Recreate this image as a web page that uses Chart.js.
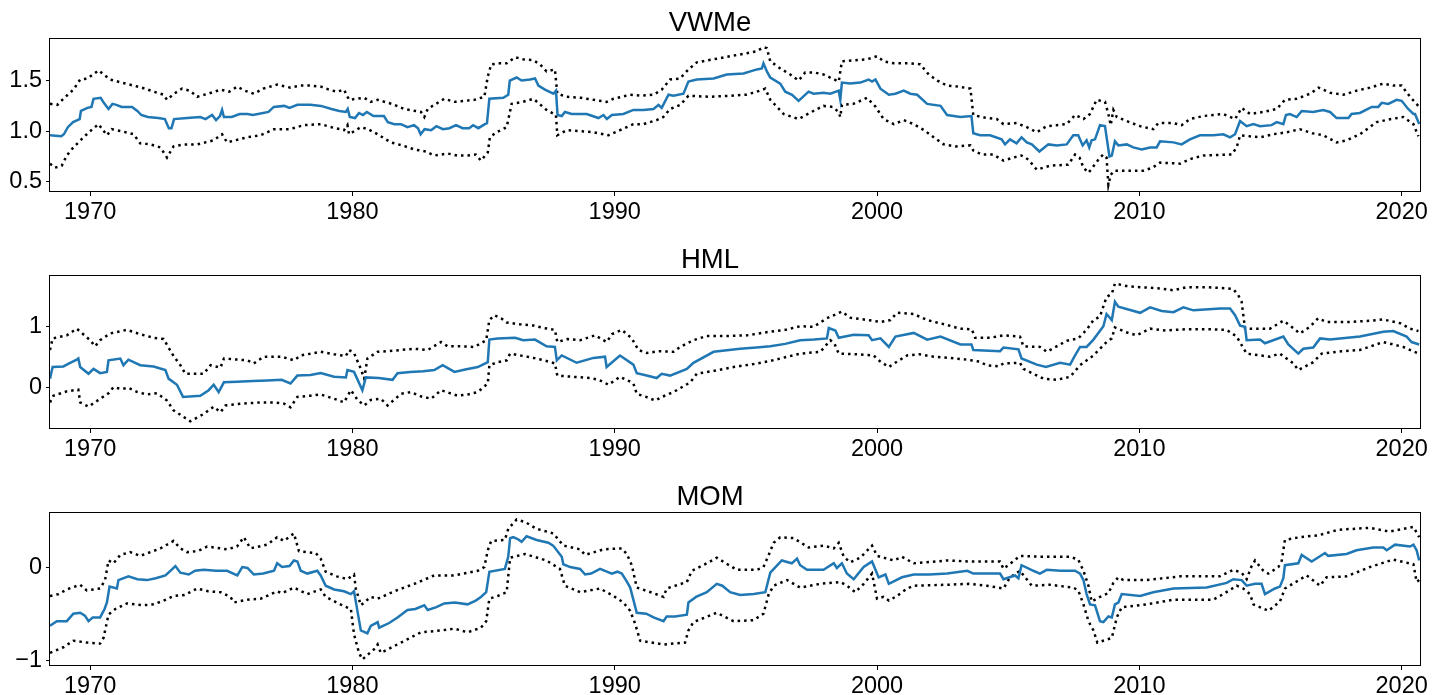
<!DOCTYPE html>
<html>
<head>
<meta charset="utf-8">
<title>VWMe / HML / MOM</title>
<script src="https://cdn.jsdelivr.net/npm/chart.js@4.4.1/dist/chart.umd.min.js"></script>
<style>
    html, body { margin: 0; padding: 0; background: #fff; overflow: hidden; }
    body { width: 1444px; height: 695px; position: relative; }
    canvas { position: absolute; left: 0; }
</style>
</head>
<body>
<canvas id="vwmeChart" width="1444" height="237" style="top:0px"></canvas>
<canvas id="hmlChart" width="1444" height="237" style="top:237px"></canvas>
<canvas id="momChart" width="1444" height="237" style="top:474px"></canvas>

<script>
// x axis (years)
const X_MIN = 1968.47;
const X_MAX = 2020.70;
const YEAR_TICKS = [1970, 1980, 1990, 2000, 2010, 2020];

// VWMe: estimate, lower and upper band  [year, value]
const vwmeEst = [[1968.47,0.96],[1968.9,0.95],[1969.0,0.97],[1969.15,1.04],[1969.35,1.09],[1969.6,1.12],[1969.65,1.20],[1969.9,1.23],[1970.05,1.24],[1970.13,1.32],[1970.4,1.33],[1970.55,1.27],[1970.7,1.22],[1970.85,1.27],[1971.0,1.26],[1971.2,1.24],[1971.6,1.24],[1971.8,1.20],[1971.95,1.16],[1972.2,1.14],[1972.6,1.13],[1972.85,1.12],[1973.0,1.03],[1973.1,1.03],[1973.2,1.12],[1973.7,1.13],[1974.2,1.14],[1974.4,1.12],[1974.65,1.16],[1974.8,1.11],[1974.95,1.15],[1975.03,1.21],[1975.1,1.14],[1975.4,1.14],[1975.7,1.17],[1976.0,1.17],[1976.2,1.16],[1976.4,1.17],[1976.8,1.19],[1977.0,1.24],[1977.4,1.25],[1977.6,1.23],[1977.9,1.26],[1978.4,1.26],[1978.8,1.25],[1979.2,1.22],[1979.5,1.20],[1979.75,1.19],[1979.82,1.22],[1979.9,1.14],[1980.1,1.13],[1980.25,1.18],[1980.4,1.16],[1980.55,1.19],[1980.8,1.15],[1981.2,1.15],[1981.35,1.09],[1981.6,1.07],[1981.85,1.07],[1982.1,1.04],[1982.35,1.06],[1982.5,1.03],[1982.6,0.97],[1982.75,1.02],[1983.0,1.01],[1983.2,1.05],[1983.45,1.02],[1983.7,1.03],[1983.95,1.06],[1984.2,1.03],[1984.45,1.03],[1984.6,1.06],[1984.8,1.03],[1985.05,1.07],[1985.13,1.08],[1985.22,1.32],[1985.75,1.33],[1985.94,1.36],[1986.0,1.50],[1986.26,1.53],[1986.45,1.50],[1986.77,1.51],[1986.96,1.52],[1987.09,1.45],[1987.34,1.41],[1987.66,1.37],[1987.76,1.40],[1987.82,1.16],[1987.98,1.15],[1988.1,1.19],[1988.36,1.17],[1988.93,1.17],[1989.38,1.13],[1989.57,1.16],[1989.7,1.12],[1989.89,1.16],[1990.33,1.17],[1990.71,1.21],[1991.09,1.21],[1991.48,1.22],[1991.67,1.26],[1991.79,1.23],[1992.05,1.36],[1992.24,1.35],[1992.62,1.37],[1992.81,1.49],[1993.13,1.51],[1993.77,1.52],[1994.27,1.56],[1994.91,1.57],[1995.42,1.61],[1995.61,1.62],[1995.67,1.67],[1995.8,1.59],[1995.93,1.53],[1996.31,1.47],[1996.5,1.39],[1996.76,1.36],[1997.01,1.30],[1997.39,1.39],[1997.58,1.37],[1997.96,1.38],[1998.22,1.37],[1998.54,1.40],[1998.6,1.31],[1998.66,1.48],[1998.98,1.47],[1999.36,1.48],[1999.68,1.51],[1999.81,1.49],[1999.94,1.51],[2000.13,1.42],[2000.45,1.36],[2000.7,1.37],[2001.02,1.40],[2001.27,1.37],[2001.53,1.36],[2001.91,1.27],[2002.42,1.25],[2002.67,1.16],[2003.18,1.14],[2003.6,1.15],[2003.67,0.98],[2003.93,0.96],[2004.31,0.96],[2004.75,0.92],[2004.88,0.87],[2005.07,0.92],[2005.32,0.88],[2005.51,0.94],[2005.71,0.89],[2005.9,0.87],[2006.19,0.80],[2006.53,0.87],[2006.85,0.86],[2007.23,0.87],[2007.48,0.96],[2007.67,0.96],[2007.84,0.86],[2007.99,0.91],[2008.09,0.84],[2008.18,0.91],[2008.31,0.92],[2008.5,1.06],[2008.69,1.05],[2008.86,0.75],[2008.95,0.76],[2009.07,0.90],[2009.2,0.86],[2009.52,0.87],[2009.77,0.84],[2010.09,0.82],[2010.41,0.84],[2010.66,0.84],[2010.79,0.90],[2011.3,0.89],[2011.61,0.87],[2011.93,0.92],[2012.31,0.96],[2012.82,0.96],[2013.2,0.97],[2013.46,0.94],[2013.65,0.97],[2013.84,1.10],[2014.09,1.05],[2014.35,1.07],[2014.6,1.05],[2015.04,1.06],[2015.24,1.09],[2015.49,1.07],[2015.59,1.16],[2015.74,1.17],[2016.0,1.14],[2016.19,1.20],[2016.63,1.19],[2017.01,1.21],[2017.27,1.19],[2017.52,1.13],[2017.97,1.13],[2018.09,1.17],[2018.41,1.18],[2018.86,1.24],[2019.11,1.24],[2019.24,1.28],[2019.49,1.27],[2019.81,1.31],[2020.0,1.30],[2020.25,1.22],[2020.45,1.17],[2020.51,1.17],[2020.67,1.07]];
const vwmeHi = [[1968.47,1.27],[1968.75,1.26],[1968.98,1.32],[1969.36,1.41],[1969.62,1.51],[1969.9,1.52],[1970.32,1.60],[1970.76,1.51],[1971.2,1.48],[1971.66,1.45],[1972.1,1.42],[1972.55,1.38],[1972.8,1.36],[1972.93,1.31],[1973.2,1.37],[1973.5,1.42],[1973.8,1.40],[1974.08,1.34],[1974.5,1.37],[1974.97,1.41],[1975.3,1.39],[1975.61,1.44],[1975.9,1.40],[1976.24,1.37],[1976.6,1.42],[1977.13,1.46],[1977.64,1.43],[1978.0,1.45],[1978.41,1.45],[1978.8,1.44],[1979.11,1.41],[1979.4,1.39],[1979.68,1.41],[1979.87,1.31],[1980.45,1.33],[1980.7,1.29],[1980.96,1.31],[1981.5,1.27],[1981.97,1.22],[1982.61,1.19],[1982.74,1.14],[1982.87,1.22],[1983.5,1.32],[1983.89,1.29],[1984.3,1.30],[1984.65,1.31],[1985.03,1.34],[1985.16,1.54],[1985.29,1.66],[1985.62,1.67],[1985.88,1.67],[1986.2,1.73],[1986.5,1.71],[1986.9,1.70],[1987.15,1.66],[1987.4,1.59],[1987.72,1.61],[1987.81,1.37],[1988.17,1.34],[1988.7,1.33],[1989.19,1.31],[1989.69,1.29],[1989.95,1.32],[1990.59,1.36],[1991.0,1.35],[1991.48,1.36],[1991.79,1.41],[1992.11,1.51],[1992.49,1.52],[1992.81,1.61],[1993.13,1.68],[1993.77,1.71],[1994.4,1.74],[1995.04,1.77],[1995.42,1.79],[1995.67,1.83],[1995.8,1.82],[1995.93,1.69],[1996.31,1.62],[1996.69,1.56],[1997.01,1.50],[1997.26,1.58],[1997.6,1.58],[1997.96,1.56],[1998.54,1.49],[1998.66,1.69],[1999.1,1.70],[1999.62,1.71],[2000.0,1.74],[2000.25,1.69],[2000.64,1.67],[2001.27,1.67],[2001.65,1.66],[2001.97,1.56],[2002.3,1.50],[2002.67,1.45],[2003.1,1.44],[2003.56,1.42],[2003.67,1.16],[2004.18,1.13],[2004.56,1.12],[2004.82,1.07],[2005.32,1.08],[2005.71,1.04],[2006.09,0.99],[2006.47,1.05],[2007.23,1.07],[2007.55,1.16],[2007.87,1.12],[2008.12,1.17],[2008.37,1.31],[2008.69,1.29],[2008.82,1.17],[2008.91,1.06],[2009.01,1.21],[2009.14,1.14],[2009.52,1.10],[2010.03,1.05],[2010.53,1.02],[2010.72,1.08],[2011.3,1.08],[2011.61,1.06],[2011.93,1.12],[2012.44,1.15],[2013.2,1.17],[2013.65,1.12],[2013.9,1.23],[2014.22,1.17],[2014.73,1.19],[2015.24,1.22],[2015.55,1.31],[2016.0,1.32],[2016.51,1.37],[2016.83,1.43],[2017.27,1.38],[2017.78,1.36],[2018.28,1.40],[2018.79,1.43],[2019.3,1.47],[2019.68,1.45],[2020.0,1.45],[2020.32,1.34],[2020.67,1.24]];
const vwmeLo = [[1968.47,0.68],[1968.66,0.64],[1968.92,0.66],[1969.11,0.76],[1969.36,0.84],[1969.75,0.94],[1970.0,1.00],[1970.32,1.07],[1970.64,0.96],[1970.83,1.02],[1971.2,1.00],[1971.66,0.97],[1971.91,0.88],[1972.3,0.87],[1972.68,0.84],[1972.93,0.74],[1973.18,0.85],[1973.6,0.87],[1974.08,0.87],[1974.71,0.91],[1975.03,0.97],[1975.22,0.89],[1975.99,0.94],[1976.5,0.96],[1977.01,1.02],[1977.6,1.02],[1978.15,1.06],[1978.79,1.07],[1979.2,1.04],[1979.68,1.01],[1979.81,1.06],[1979.87,0.97],[1980.32,1.04],[1980.6,1.02],[1980.96,0.97],[1981.46,0.89],[1981.9,0.86],[1982.36,0.82],[1982.8,0.80],[1983.12,0.76],[1983.63,0.78],[1984.0,0.76],[1984.39,0.76],[1984.7,0.77],[1984.9,0.71],[1985.16,0.79],[1985.24,0.94],[1985.5,0.99],[1985.88,1.04],[1986.07,1.27],[1986.5,1.29],[1986.9,1.32],[1987.4,1.21],[1987.76,1.16],[1987.81,0.96],[1988.17,1.01],[1988.7,1.00],[1989.19,0.99],[1989.76,0.96],[1990.2,1.01],[1990.71,1.07],[1991.1,1.07],[1991.6,1.11],[1991.85,1.14],[1992.11,1.22],[1992.5,1.26],[1992.81,1.35],[1993.6,1.34],[1994.4,1.35],[1995.0,1.36],[1995.42,1.39],[1995.74,1.42],[1995.93,1.31],[1996.44,1.17],[1997.01,1.12],[1997.5,1.19],[1997.96,1.25],[1998.3,1.24],[1998.54,1.19],[1998.6,1.14],[1998.66,1.26],[1999.1,1.27],[1999.62,1.33],[1999.95,1.24],[2000.25,1.12],[2000.64,1.07],[2001.02,1.11],[2001.4,1.07],[2001.8,1.01],[2002.16,0.94],[2002.54,0.87],[2003.0,0.85],[2003.56,0.86],[2003.67,0.81],[2004.0,0.77],[2004.43,0.77],[2004.82,0.71],[2005.2,0.74],[2005.51,0.76],[2005.77,0.72],[2006.09,0.62],[2006.59,0.66],[2007.29,0.67],[2007.55,0.77],[2007.72,0.74],[2007.87,0.64],[2008.06,0.59],[2008.3,0.67],[2008.5,0.74],[2008.63,0.77],[2008.75,0.74],[2008.82,0.47],[2008.91,0.57],[2009.03,0.61],[2009.5,0.61],[2010.15,0.61],[2010.5,0.64],[2010.79,0.69],[2011.55,0.68],[2012.0,0.73],[2012.44,0.76],[2013.52,0.77],[2013.71,0.84],[2013.84,0.96],[2014.6,0.94],[2015.1,0.97],[2015.62,0.99],[2016.12,1.02],[2016.6,0.98],[2017.01,0.96],[2017.52,0.89],[2017.9,0.91],[2018.41,0.97],[2019.05,1.09],[2019.6,1.12],[2020.06,1.14],[2020.45,1.07],[2020.64,0.95]];

// HML
const hmlEst = [[1968.47,0.15],[1968.57,0.34],[1968.98,0.35],[1969.2,0.40],[1969.49,0.46],[1969.55,0.48],[1969.62,0.34],[1969.94,0.23],[1970.13,0.31],[1970.38,0.24],[1970.64,0.26],[1970.7,0.45],[1971.15,0.48],[1971.27,0.37],[1971.46,0.46],[1971.91,0.37],[1972.42,0.35],[1972.87,0.29],[1972.99,0.15],[1973.31,0.05],[1973.54,-0.15],[1974.2,-0.13],[1974.52,-0.04],[1974.71,0.05],[1974.9,-0.07],[1975.1,0.09],[1975.6,0.10],[1976.2,0.11],[1976.75,0.12],[1977.3,0.13],[1977.64,0.07],[1977.9,0.20],[1978.4,0.21],[1978.79,0.24],[1979.3,0.18],[1979.75,0.17],[1979.81,0.29],[1980.06,0.26],[1980.38,-0.04],[1980.51,0.17],[1981.0,0.16],[1981.53,0.13],[1981.72,0.24],[1982.2,0.26],[1982.7,0.27],[1983.12,0.29],[1983.44,0.37],[1983.89,0.26],[1984.3,0.30],[1984.78,0.34],[1985.16,0.42],[1985.22,0.79],[1985.54,0.81],[1986.2,0.82],[1986.51,0.78],[1986.96,0.79],[1987.4,0.68],[1987.72,0.67],[1987.79,0.45],[1987.98,0.53],[1988.55,0.41],[1989.19,0.49],[1989.63,0.51],[1989.69,0.34],[1990.2,0.53],[1990.71,0.38],[1990.84,0.24],[1991.22,0.20],[1991.6,0.16],[1991.79,0.23],[1992.11,0.20],[1992.75,0.31],[1993.0,0.41],[1993.77,0.59],[1994.78,0.64],[1995.4,0.66],[1995.93,0.68],[1996.5,0.72],[1997.07,0.78],[1997.6,0.79],[1998.09,0.81],[1998.16,0.98],[1998.41,0.94],[1998.54,0.82],[1999.11,0.87],[1999.68,0.86],[1999.81,0.78],[2000.13,0.81],[2000.45,0.67],[2000.7,0.84],[2001.4,0.90],[2001.91,0.79],[2002.42,0.84],[2003.18,0.71],[2003.6,0.71],[2003.67,0.62],[2004.69,0.60],[2004.82,0.66],[2005.39,0.63],[2005.51,0.48],[2006.09,0.38],[2006.44,0.34],[2006.98,0.41],[2007.36,0.38],[2007.55,0.53],[2007.74,0.67],[2007.99,0.67],[2008.25,0.79],[2008.63,1.01],[2008.75,1.21],[2008.95,1.11],[2009.07,1.41],[2009.2,1.33],[2010.03,1.23],[2010.41,1.32],[2010.85,1.26],[2011.3,1.24],[2011.68,1.32],[2012.06,1.27],[2013.08,1.30],[2013.46,1.30],[2013.65,1.19],[2013.84,1.02],[2014.03,1.00],[2014.09,0.78],[2014.6,0.79],[2014.79,0.73],[2015.49,0.84],[2015.68,0.71],[2016.06,0.56],[2016.25,0.64],[2016.63,0.66],[2016.89,0.81],[2017.27,0.79],[2018.41,0.84],[2019.3,0.92],[2019.68,0.93],[2020.19,0.84],[2020.38,0.75],[2020.67,0.71]];
const hmlHi = [[1968.47,0.62],[1968.57,0.81],[1969.11,0.86],[1969.49,0.97],[1970.0,0.78],[1970.19,0.68],[1970.38,0.78],[1970.76,0.89],[1971.4,0.95],[1971.9,0.88],[1972.42,0.82],[1972.8,0.80],[1973.18,0.52],[1973.44,0.37],[1973.63,0.23],[1974.33,0.23],[1974.59,0.37],[1974.97,0.33],[1975.1,0.48],[1975.99,0.45],[1976.24,0.40],[1976.62,0.51],[1977.3,0.51],[1977.77,0.45],[1978.03,0.53],[1978.79,0.59],[1979.3,0.55],[1979.75,0.52],[1979.87,0.62],[1980.06,0.57],[1980.32,0.31],[1980.45,0.15],[1980.57,0.48],[1980.96,0.59],[1981.6,0.61],[1982.36,0.64],[1982.87,0.62],[1983.38,0.75],[1983.63,0.68],[1984.1,0.68],[1984.65,0.67],[1985.1,0.78],[1985.22,1.11],[1985.41,1.19],[1985.67,1.14],[1985.88,1.07],[1986.4,1.04],[1986.9,1.02],[1987.3,0.98],[1987.72,0.95],[1987.81,0.75],[1988.2,0.80],[1988.68,0.78],[1989.25,0.86],[1989.69,0.75],[1989.9,0.88],[1990.27,0.95],[1990.65,0.81],[1990.9,0.62],[1991.22,0.57],[1991.7,0.60],[1992.24,0.59],[1992.49,0.67],[1993.0,0.78],[1993.51,0.85],[1994.3,0.85],[1995.04,0.86],[1995.93,0.92],[1996.5,0.95],[1997.07,1.01],[1997.58,1.00],[1998.09,1.14],[1998.66,1.25],[1998.98,1.15],[1999.5,1.12],[2000.13,1.08],[2000.51,1.11],[2000.76,1.23],[2001.4,1.21],[2001.91,1.11],[2002.67,1.03],[2003.16,0.97],[2003.61,0.96],[2003.74,0.82],[2004.3,0.82],[2004.82,0.86],[2005.45,0.84],[2005.58,0.68],[2006.21,0.67],[2006.47,0.59],[2006.85,0.68],[2007.23,0.77],[2007.67,0.81],[2007.99,0.95],[2008.25,1.11],[2008.5,1.17],[2008.75,1.49],[2008.95,1.54],[2009.07,1.71],[2009.5,1.67],[2010.03,1.65],[2010.79,1.63],[2011.3,1.60],[2011.8,1.65],[2012.6,1.65],[2013.33,1.63],[2013.58,1.62],[2013.77,1.52],[2013.9,1.41],[2014.03,0.97],[2014.98,0.97],[2015.49,1.10],[2015.8,1.00],[2016.12,0.89],[2016.5,1.00],[2016.82,1.14],[2017.14,1.08],[2018.0,1.08],[2018.79,1.10],[2019.3,1.12],[2019.94,1.06],[2020.32,0.97],[2020.64,0.93]];
const hmlLo = [[1968.47,-0.24],[1968.6,-0.13],[1969.1,-0.06],[1969.55,-0.03],[1969.62,-0.24],[1969.94,-0.31],[1970.38,-0.18],[1970.7,-0.09],[1970.89,0.01],[1971.2,-0.02],[1971.46,0.00],[1971.8,-0.07],[1972.17,-0.11],[1972.55,-0.09],[1972.93,-0.21],[1973.18,-0.37],[1973.57,-0.48],[1973.82,-0.55],[1974.33,-0.43],[1974.71,-0.31],[1974.97,-0.40],[1975.16,-0.29],[1975.8,-0.26],[1976.5,-0.24],[1977.0,-0.24],[1977.39,-0.26],[1977.64,-0.32],[1977.9,-0.15],[1978.4,-0.13],[1978.79,-0.11],[1979.3,-0.18],[1979.68,-0.24],[1979.94,-0.04],[1980.2,-0.20],[1980.45,-0.29],[1980.7,-0.20],[1981.08,-0.18],[1981.34,-0.29],[1981.85,-0.10],[1982.23,-0.07],[1982.6,-0.14],[1983.0,-0.18],[1983.38,-0.04],[1984.01,-0.13],[1984.4,-0.11],[1984.78,-0.07],[1985.16,0.07],[1985.22,0.37],[1985.54,0.42],[1985.88,0.45],[1986.01,0.56],[1986.4,0.53],[1986.9,0.49],[1987.3,0.45],[1987.72,0.40],[1987.81,0.20],[1988.4,0.18],[1989.06,0.16],[1989.4,0.13],[1989.76,0.05],[1990.2,0.18],[1990.5,0.12],[1990.71,0.07],[1990.84,-0.10],[1991.2,-0.15],[1991.54,-0.21],[1991.8,-0.15],[1992.24,-0.07],[1992.88,0.09],[1993.13,0.23],[1993.8,0.28],[1994.53,0.34],[1995.3,0.39],[1995.93,0.44],[1996.5,0.50],[1997.07,0.56],[1997.84,0.59],[1998.22,0.78],[1998.38,0.72],[1998.54,0.56],[1999.2,0.55],[1999.87,0.53],[2000.1,0.44],[2000.45,0.34],[2000.8,0.44],[2001.15,0.53],[2001.6,0.55],[2002.16,0.51],[2002.8,0.49],[2003.44,0.46],[2003.9,0.43],[2004.18,0.37],[2004.63,0.35],[2004.82,0.40],[2005.45,0.41],[2005.58,0.31],[2006.34,0.15],[2006.85,0.13],[2007.36,0.18],[2007.74,0.37],[2008.25,0.53],[2008.75,0.75],[2008.95,0.81],[2009.07,0.99],[2009.5,0.91],[2009.9,0.86],[2010.41,0.97],[2011.0,0.94],[2011.8,0.96],[2012.6,0.96],[2013.33,0.95],[2013.71,0.84],[2014.09,0.56],[2014.98,0.51],[2015.36,0.56],[2015.87,0.40],[2016.06,0.29],[2016.63,0.42],[2016.95,0.56],[2017.7,0.60],[2018.41,0.62],[2019.3,0.75],[2020.06,0.67],[2020.64,0.56]];

// MOM
const momEst = [[1968.47,-0.63],[1968.73,-0.58],[1969.11,-0.58],[1969.36,-0.50],[1969.62,-0.49],[1969.8,-0.52],[1969.94,-0.58],[1970.1,-0.54],[1970.38,-0.54],[1970.55,-0.45],[1970.64,-0.38],[1970.74,-0.21],[1971.02,-0.23],[1971.08,-0.14],[1971.46,-0.10],[1971.8,-0.13],[1972.17,-0.14],[1972.5,-0.12],[1972.87,-0.09],[1973.1,-0.03],[1973.25,0.01],[1973.44,-0.06],[1973.76,-0.08],[1974.0,-0.04],[1974.33,-0.03],[1974.8,-0.04],[1975.22,-0.04],[1975.61,-0.09],[1975.8,0.00],[1976.0,-0.01],[1976.24,-0.08],[1976.6,-0.07],[1977.01,-0.04],[1977.13,0.04],[1977.32,0.00],[1977.6,0.01],[1977.77,0.07],[1977.9,0.06],[1978.03,-0.04],[1978.28,-0.07],[1978.66,-0.04],[1978.79,-0.09],[1978.98,-0.20],[1979.3,-0.24],[1979.68,-0.26],[1979.94,-0.29],[1980.06,-0.26],[1980.19,-0.47],[1980.32,-0.68],[1980.57,-0.71],[1980.7,-0.63],[1980.96,-0.59],[1981.02,-0.65],[1981.4,-0.60],[1981.72,-0.54],[1982.1,-0.46],[1982.4,-0.45],[1982.74,-0.41],[1982.87,-0.46],[1983.2,-0.43],[1983.5,-0.39],[1983.9,-0.38],[1984.39,-0.40],[1984.7,-0.36],[1984.9,-0.32],[1985.1,-0.27],[1985.22,-0.05],[1985.81,-0.02],[1985.94,0.11],[1986.01,0.31],[1986.13,0.32],[1986.3,0.30],[1986.45,0.27],[1986.64,0.33],[1987.02,0.29],[1987.47,0.26],[1987.65,0.23],[1987.79,0.18],[1987.98,0.11],[1988.04,0.03],[1988.3,0.00],[1988.68,-0.02],[1988.87,-0.08],[1989.1,-0.07],[1989.44,-0.02],[1989.89,-0.07],[1990.1,-0.05],[1990.27,-0.07],[1990.45,-0.15],[1990.59,-0.22],[1990.84,-0.49],[1991.2,-0.50],[1991.48,-0.54],[1991.86,-0.58],[1991.98,-0.53],[1992.3,-0.53],[1992.75,-0.51],[1992.81,-0.38],[1993.1,-0.32],[1993.51,-0.27],[1993.89,-0.18],[1994.1,-0.20],[1994.4,-0.27],[1994.78,-0.30],[1995.3,-0.29],[1995.74,-0.27],[1995.93,-0.06],[1996.37,0.07],[1996.75,0.04],[1996.95,0.09],[1997.07,0.02],[1997.33,-0.03],[1997.96,-0.03],[1998.35,0.04],[1998.47,-0.01],[1998.66,0.04],[1998.85,-0.07],[1999.11,-0.13],[1999.49,0.00],[1999.81,0.06],[2000.06,-0.11],[2000.32,-0.08],[2000.45,-0.18],[2000.95,-0.11],[2001.4,-0.08],[2002.0,-0.08],[2002.67,-0.07],[2003.44,-0.04],[2003.67,-0.07],[2004.69,-0.07],[2004.82,-0.13],[2005.26,-0.09],[2005.39,-0.12],[2005.51,0.02],[2005.96,-0.04],[2006.21,-0.07],[2006.47,-0.03],[2007.0,-0.04],[2007.55,-0.04],[2007.74,-0.07],[2007.87,-0.14],[2007.99,-0.29],[2008.12,-0.40],[2008.31,-0.41],[2008.5,-0.58],[2008.63,-0.59],[2008.82,-0.53],[2008.95,-0.54],[2009.07,-0.40],[2009.2,-0.38],[2009.33,-0.29],[2010.03,-0.31],[2010.53,-0.27],[2011.3,-0.23],[2012.57,-0.22],[2013.33,-0.17],[2013.58,-0.13],[2013.9,-0.14],[2014.09,-0.20],[2014.41,-0.18],[2014.66,-0.18],[2014.79,-0.29],[2015.17,-0.23],[2015.36,-0.21],[2015.49,-0.12],[2015.55,0.02],[2016.06,0.04],[2016.19,0.13],[2016.57,0.06],[2017.08,0.15],[2017.2,0.12],[2017.9,0.14],[2018.28,0.18],[2018.92,0.21],[2019.3,0.21],[2019.43,0.18],[2019.75,0.24],[2020.32,0.22],[2020.45,0.24],[2020.57,0.18],[2020.67,0.07]];
const momHi = [[1968.47,-0.31],[1968.8,-0.29],[1969.11,-0.24],[1969.62,-0.19],[1969.87,-0.25],[1970.38,-0.23],[1970.57,-0.14],[1970.7,0.07],[1970.89,0.04],[1971.15,0.13],[1971.53,0.16],[1971.91,0.12],[1972.3,0.16],[1972.68,0.20],[1973.18,0.28],[1973.44,0.20],[1973.69,0.16],[1974.1,0.17],[1974.46,0.22],[1975.22,0.19],[1975.6,0.22],[1975.86,0.32],[1976.11,0.20],[1976.75,0.24],[1977.13,0.32],[1977.39,0.28],[1977.77,0.36],[1977.96,0.17],[1978.6,0.15],[1978.79,0.09],[1978.98,-0.05],[1979.4,-0.10],[1979.81,-0.13],[1980.06,-0.08],[1980.13,-0.23],[1980.32,-0.41],[1980.7,-0.32],[1980.96,-0.34],[1981.59,-0.26],[1982.36,-0.18],[1983.12,-0.09],[1983.89,-0.09],[1984.78,-0.04],[1985.03,0.00],[1985.16,0.18],[1985.29,0.28],[1985.81,0.29],[1985.94,0.41],[1986.26,0.51],[1986.6,0.48],[1987.02,0.41],[1987.66,0.36],[1988.04,0.23],[1988.68,0.19],[1988.87,0.13],[1989.57,0.19],[1990.27,0.20],[1990.46,0.14],[1990.65,0.02],[1990.84,-0.22],[1991.48,-0.28],[1991.86,-0.32],[1991.98,-0.23],[1992.75,-0.16],[1992.94,-0.04],[1993.51,0.04],[1993.89,0.10],[1994.3,0.03],[1994.66,-0.03],[1995.42,-0.03],[1995.67,0.00],[1995.87,0.13],[1996.06,0.26],[1996.31,0.32],[1996.82,0.31],[1997.39,0.21],[1997.96,0.23],[1998.35,0.20],[1998.54,0.26],[1998.73,0.11],[1998.98,0.05],[1999.36,0.10],[1999.81,0.23],[2000.0,0.12],[2000.64,0.07],[2000.95,0.11],[2001.4,0.04],[2002.67,0.07],[2003.5,0.06],[2004.69,0.06],[2004.82,-0.02],[2005.1,0.04],[2005.45,0.12],[2006.21,0.11],[2007.36,0.11],[2007.67,0.08],[2007.87,-0.04],[2008.06,-0.20],[2008.18,-0.37],[2008.5,-0.32],[2008.82,-0.28],[2009.01,-0.17],[2009.2,-0.11],[2009.39,-0.14],[2010.28,-0.14],[2011.55,-0.10],[2013.07,-0.10],[2013.58,-0.03],[2013.9,-0.06],[2014.09,-0.13],[2014.28,0.01],[2014.41,0.07],[2014.73,-0.04],[2014.92,-0.07],[2015.3,0.00],[2015.43,0.07],[2015.55,0.29],[2016.12,0.32],[2016.82,0.34],[2017.59,0.40],[2018.79,0.42],[2019.55,0.38],[2020.45,0.43],[2020.67,0.32]];
const momLo = [[1968.47,-0.92],[1968.98,-0.86],[1969.36,-0.79],[1969.9,-0.81],[1970.38,-0.82],[1970.51,-0.76],[1970.7,-0.51],[1970.96,-0.45],[1971.4,-0.39],[1972.0,-0.41],[1972.42,-0.40],[1972.8,-0.36],[1973.18,-0.31],[1973.6,-0.30],[1974.08,-0.23],[1974.5,-0.26],[1974.97,-0.27],[1975.35,-0.32],[1975.48,-0.38],[1976.0,-0.35],[1976.5,-0.34],[1977.13,-0.26],[1977.32,-0.28],[1977.77,-0.22],[1978.28,-0.29],[1978.79,-0.24],[1978.98,-0.32],[1979.68,-0.42],[1979.94,-0.45],[1980.06,-0.72],[1980.25,-0.92],[1980.38,-0.99],[1980.83,-0.88],[1980.96,-0.83],[1981.08,-0.92],[1981.85,-0.81],[1982.61,-0.70],[1983.38,-0.68],[1983.89,-0.66],[1984.39,-0.70],[1984.9,-0.65],[1985.1,-0.58],[1985.22,-0.34],[1985.54,-0.31],[1985.88,-0.27],[1986.01,0.10],[1986.58,0.14],[1987.4,0.07],[1987.91,-0.02],[1988.1,-0.20],[1988.68,-0.27],[1989.44,-0.23],[1989.95,-0.31],[1990.33,-0.38],[1990.59,-0.47],[1990.78,-0.61],[1990.97,-0.79],[1991.86,-0.83],[1992.68,-0.81],[1992.81,-0.68],[1993.0,-0.59],[1993.89,-0.49],[1994.53,-0.58],[1995.29,-0.57],[1995.67,-0.50],[1995.87,-0.29],[1996.06,-0.20],[1996.57,-0.14],[1997.07,-0.22],[1997.84,-0.18],[1998.6,-0.16],[1998.85,-0.20],[1999.17,-0.27],[1999.49,-0.18],[1999.81,-0.07],[2000.0,-0.34],[2000.25,-0.32],[2000.45,-0.36],[2000.76,-0.31],[2001.15,-0.23],[2001.4,-0.20],[2002.67,-0.19],[2003.5,-0.18],[2004.18,-0.20],[2004.82,-0.23],[2005.07,-0.11],[2005.45,-0.04],[2005.9,-0.20],[2006.59,-0.19],[2007.48,-0.22],[2007.67,-0.25],[2007.87,-0.40],[2008.06,-0.58],[2008.25,-0.68],[2008.4,-0.81],[2008.95,-0.76],[2009.14,-0.54],[2009.33,-0.43],[2010.28,-0.40],[2011.3,-0.35],[2012.82,-0.35],[2013.2,-0.29],[2013.71,-0.20],[2013.96,-0.23],[2014.22,-0.29],[2014.35,-0.40],[2014.92,-0.47],[2015.36,-0.37],[2015.55,-0.23],[2016.38,-0.09],[2016.89,-0.20],[2017.14,-0.11],[2017.9,-0.10],[2018.79,0.00],[2019.68,0.08],[2020.45,0.03],[2020.57,-0.16],[2020.67,-0.14]];

// y ticks per panel
const vwmeTicks = [0.5, 1.0, 1.5];
const vwmeLabels = ['0.5', '1.0', '1.5'];
const hmlTicks = [0, 1];
const hmlLabels = ['0', '1'];
const momTicks = [-1, 0];
const momLabels = ['\u22121', '0'];

const FONT = "'Liberation Sans', Arial, Helvetica, sans-serif";
const BLUE = '#1f77b4';

document.addEventListener('DOMContentLoaded', function () {
    makePanel('vwmeChart', 'VWMe', vwmeEst, vwmeLo, vwmeHi, 0.41, 1.92, vwmeTicks, vwmeLabels);
    makePanel('hmlChart', 'HML', hmlEst, hmlLo, hmlHi, -0.66, 1.85, hmlTicks, hmlLabels);
    makePanel('momChart', 'MOM', momEst, momLo, momHi, -1.05, 0.59, momTicks, momLabels);
});

// black box round the plot area
const framePlugin = {
    id: 'frame',
    afterDraw(chart) {
        const { ctx, chartArea } = chart;
        ctx.save();
        ctx.strokeStyle = '#000';
        ctx.lineWidth = 1;
        ctx.strokeRect(Math.round(chartArea.left) - 0.5, Math.round(chartArea.top) + 0.5,
            Math.round(chartArea.right - chartArea.left) + 1, Math.round(chartArea.bottom - chartArea.top));
        ctx.restore();
    }
};

function bandLine(data) {
    return {
        data: data,
        borderColor: '#000',
        borderWidth: 2.5,
        borderDash: [2.5, 4],
        borderCapStyle: 'butt',
        pointRadius: 0,
        tension: 0,
        fill: false
    };
}

function makePanel(canvasId, title, est, lo, hi, yMin, yMax, yTicks, yLabels) {
    const ctx = document.getElementById(canvasId).getContext('2d');
    new Chart(ctx, {
        type: 'line',
        data: {
            datasets: [
                { data: est, borderColor: BLUE, borderWidth: 2.5, pointRadius: 0, tension: 0, fill: false },
                bandLine(lo),
                bandLine(hi)
            ]
        },
        options: {
            responsive: false,
            animation: false,
            devicePixelRatio: 1,
            layout: { padding: { left: 0, right: 24, top: 0, bottom: 0 } },
            plugins: {
                legend: { display: false },
                tooltip: { enabled: false },
                title: {
                    display: true,
                    text: title,
                    color: '#000',
                    font: { family: FONT, size: 27.5, weight: 'normal', lineHeight: 1.0 },
                    padding: { top: 9.25, bottom: 1.25 }
                }
            },
            scales: {
                x: {
                    type: 'linear',
                    min: X_MIN,
                    max: X_MAX,
                    afterBuildTicks: scale => { scale.ticks = YEAR_TICKS.map(v => ({ value: v })); },
                    afterFit: scale => { scale.height = 46; },
                    grid: { drawOnChartArea: false, drawTicks: true, tickLength: 5, color: '#000' },
                    border: { display: false },
                    ticks: {
                        color: '#000',
                        padding: 2,
                        maxRotation: 0,
                        font: { family: FONT, size: 23.5 },
                        callback: v => String(v)
                    }
                },
                y: {
                    min: yMin,
                    max: yMax,
                    afterBuildTicks: scale => { scale.ticks = yTicks.map(v => ({ value: v })); },
                    afterFit: scale => { scale.width = 50; },
                    grid: { drawOnChartArea: false, drawTicks: true, tickLength: 4, color: '#000' },
                    border: { display: false },
                    ticks: {
                        color: '#000',
                        padding: 4,
                        font: { family: FONT, size: 23.5 },
                        callback: (v, i) => yLabels[i]
                    }
                }
            }
        },
        plugins: [framePlugin]
    });
}
</script>
</body>
</html>
